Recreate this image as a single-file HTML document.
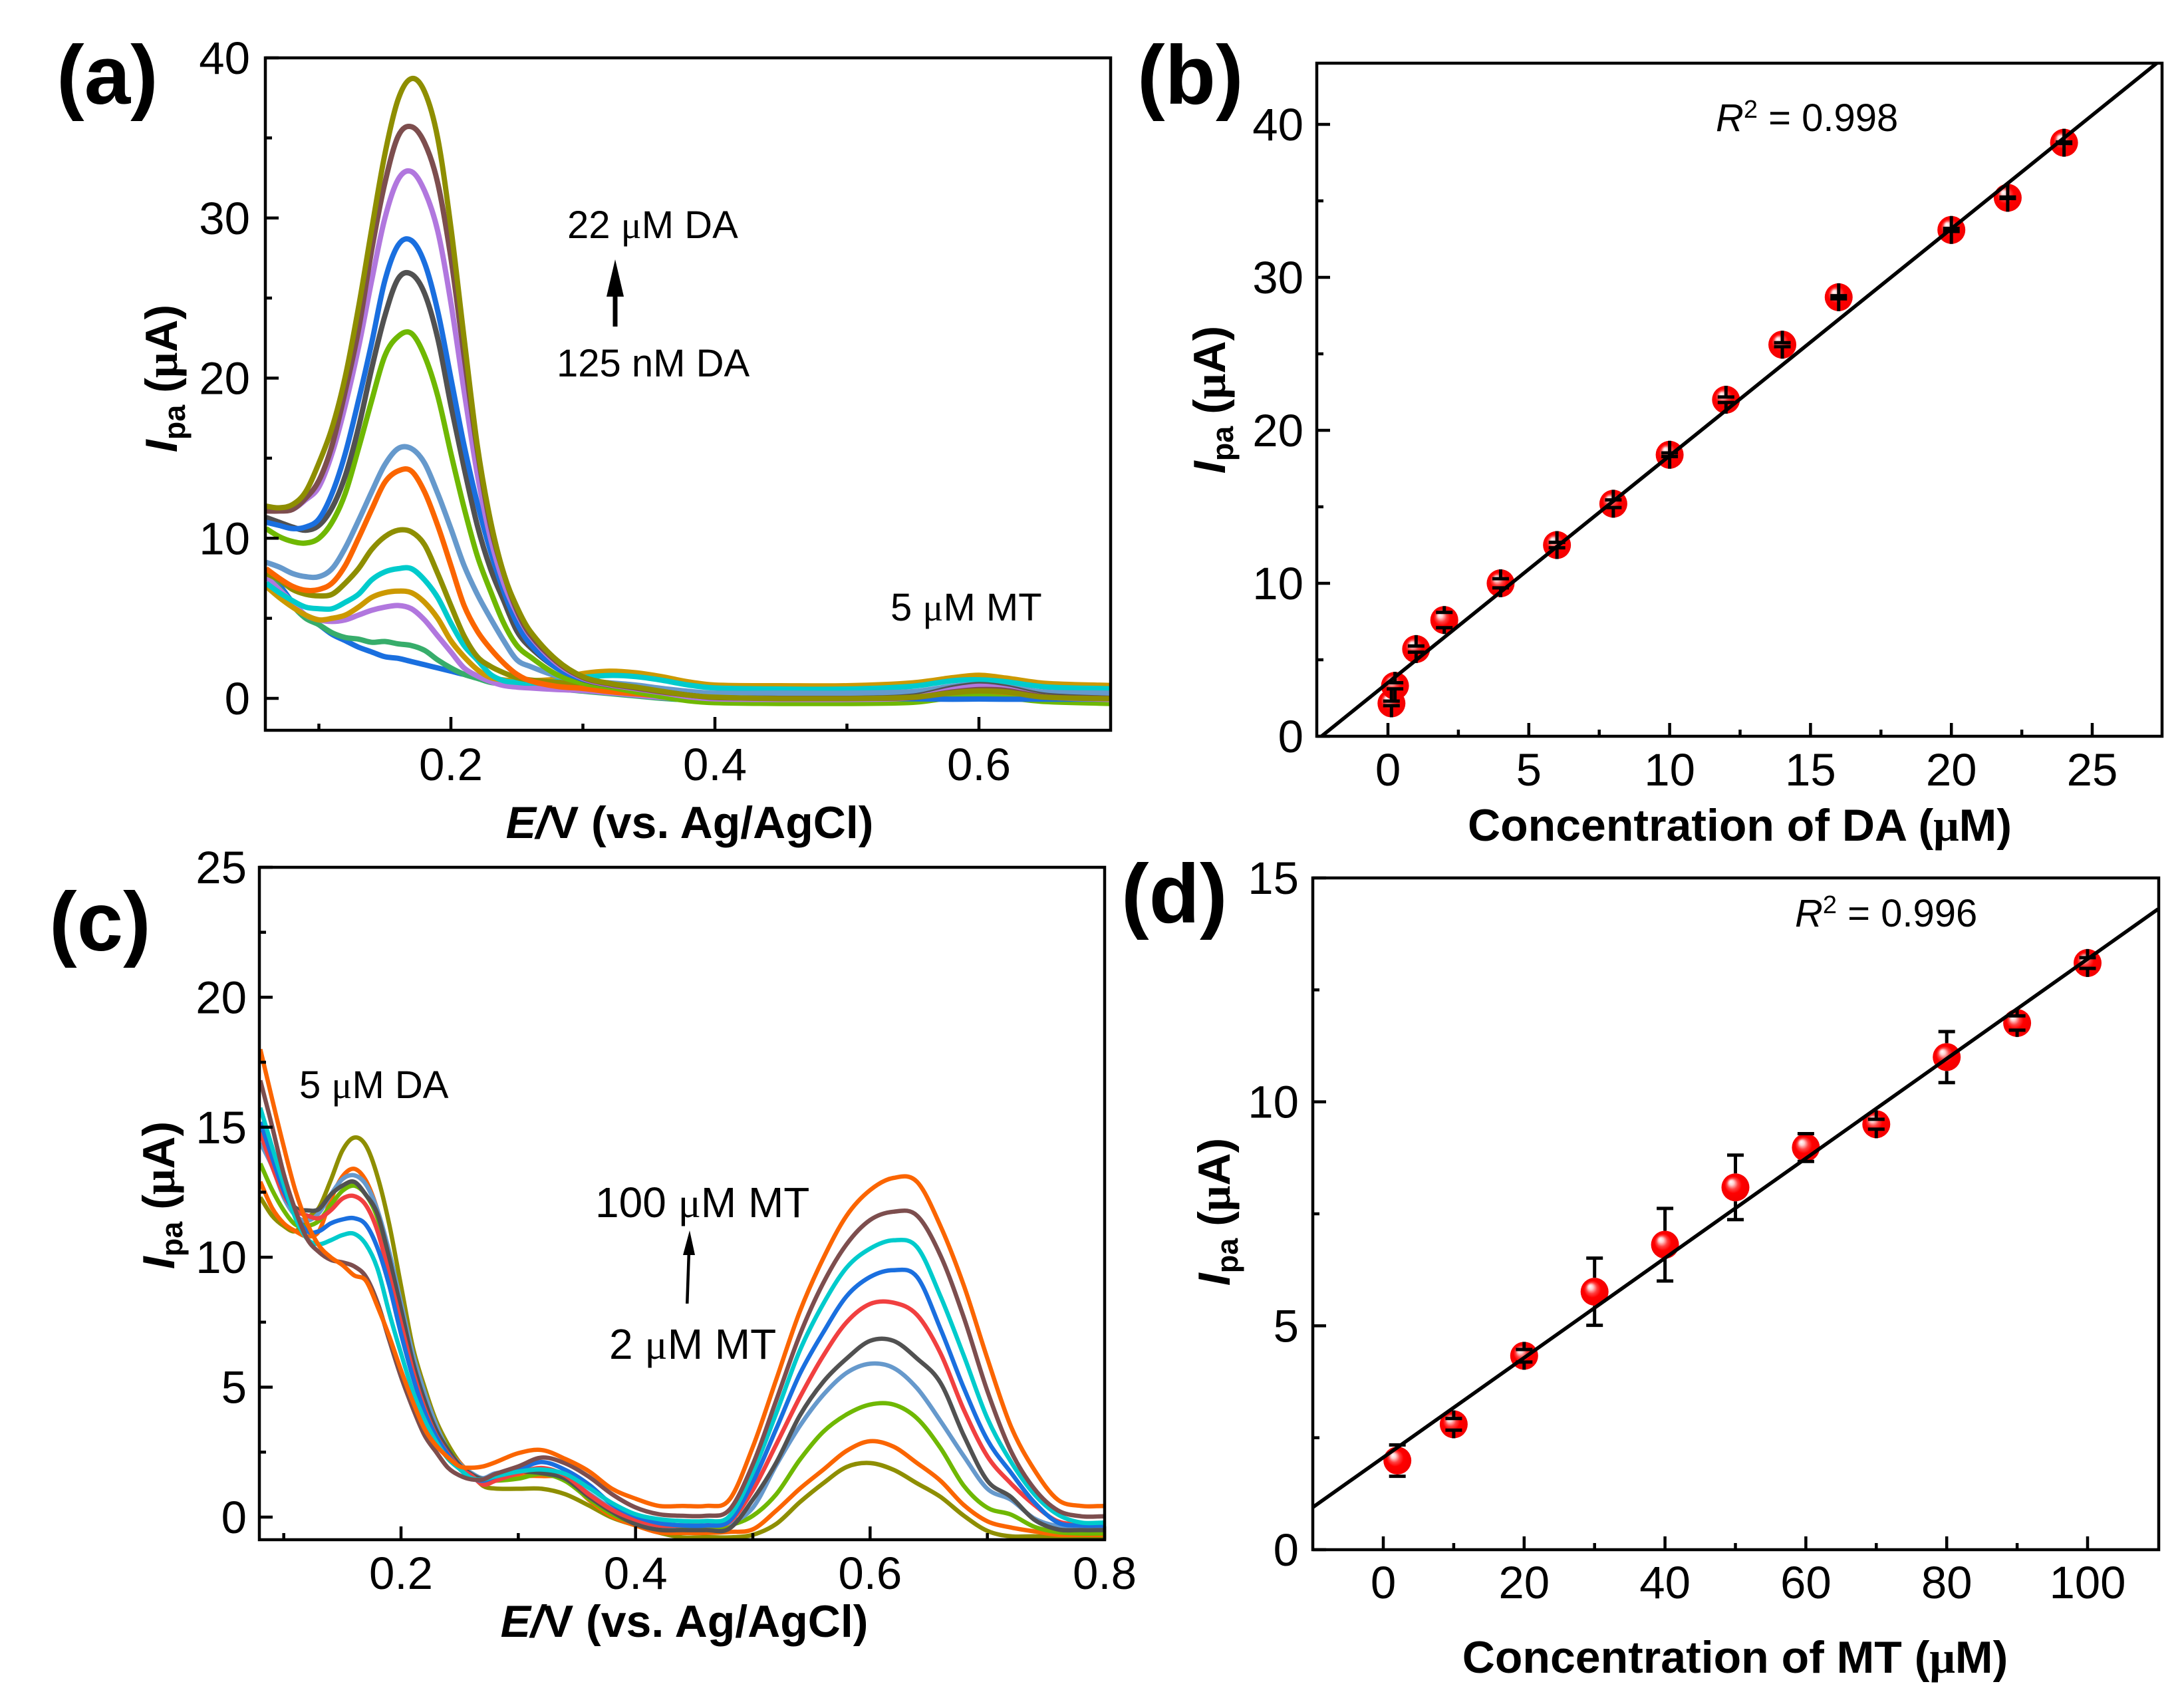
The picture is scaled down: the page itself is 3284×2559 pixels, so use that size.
<!DOCTYPE html>
<html lang="en">
<head>
<meta charset="utf-8">
<title>Voltammetry calibration of DA and MT</title>
<style>
html,body{margin:0;padding:0;background:#fff;}
svg{display:block;font-family:"Liberation Sans",Arial,sans-serif;fill:#000;}
.tick{font-size:69px;}
.title{font-size:68px;font-weight:bold;}
.note{font-size:58px;}
.note-wide{font-size:64px;}
.panel{font-size:125px;font-weight:bold;}
.mu{font-family:"Liberation Serif",serif;}
</style>
</head>
<body>
<svg id="fig" xmlns="http://www.w3.org/2000/svg" width="3284" height="2559" viewBox="0 0 3284 2559">
<defs>
<radialGradient id="ball" cx="0.5" cy="0.5" r="0.55" fx="0.33" fy="0.3">
<stop offset="0" stop-color="#ffffff"/>
<stop offset="0.16" stop-color="#ffd0d0"/>
<stop offset="0.36" stop-color="#ff4040"/>
<stop offset="0.55" stop-color="#ff0000"/>
<stop offset="1" stop-color="#f00000"/>
</radialGradient>
<clipPath id="clip-a"><rect x="399" y="87" width="1271" height="1011"/></clipPath>
<clipPath id="clip-b"><rect x="1980" y="95" width="1271" height="1012"/></clipPath>
<clipPath id="clip-c"><rect x="390" y="1304" width="1271" height="1011"/></clipPath>
<clipPath id="clip-d"><rect x="1974" y="1320" width="1272" height="1010"/></clipPath>
</defs>
<rect width="3284" height="2559" fill="#fff"/>

<g id="panel-a"></g>
<g id="panel-b"></g>
<g id="panel-c"></g>
<g id="panel-d"></g>

<text class="panel" x="85" y="156">(a)</text>
<text class="panel" x="1710" y="156">(b)</text>
<text class="panel" x="74" y="1429">(c)</text>
<text class="panel" x="1686" y="1387">(d)</text>

<text class="title" x="1037" y="1260" text-anchor="middle"><tspan font-style="italic">E/</tspan>V (vs. Ag/AgCl)</text>
<text class="title" x="266" y="569" text-anchor="middle" transform="rotate(-90 266 569)"><tspan font-style="italic">I</tspan><tspan font-size="45" dy="12">pa</tspan><tspan dy="-12" dx="18">(</tspan><tspan class="mu">μ</tspan>A)</text>
<text class="note" x="853" y="358">22 <tspan class="mu">μ</tspan>M DA</text>
<text class="note" x="837" y="566">125 nM DA</text>
<text class="note" x="1339" y="933">5 <tspan class="mu">μ</tspan>M MT</text>
<path d="M921.5 491 L921.5 446 L912 446 L925 390 L938 446 L928.5 446 L928.5 491 Z" fill="#000"/>

<text class="title" x="2616" y="1264" text-anchor="middle">Concentration of DA (<tspan class="mu">μ</tspan>M)</text>
<text class="title" x="1842" y="601" text-anchor="middle" transform="rotate(-90 1842 601)"><tspan font-style="italic">I</tspan><tspan font-size="45" dy="12">pa</tspan><tspan dy="-12" dx="18">(</tspan><tspan class="mu">μ</tspan>A)</text>
<text class="note" x="2580" y="197"><tspan font-style="italic">R</tspan><tspan font-size="38" dy="-20">2</tspan><tspan dy="20"> = 0.998</tspan></text>

<text class="title" x="1029" y="2461" text-anchor="middle"><tspan font-style="italic">E/</tspan>V (vs. Ag/AgCl)</text>
<text class="title" x="262" y="1797" text-anchor="middle" transform="rotate(-90 262 1797)"><tspan font-style="italic">I</tspan><tspan font-size="45" dy="12">pa</tspan><tspan dy="-12" dx="18">(</tspan><tspan class="mu">μ</tspan>A)</text>
<text class="note" x="450" y="1651">5 <tspan class="mu">μ</tspan>M DA</text>
<text class="note-wide" x="895" y="1830">100 <tspan class="mu">μ</tspan>M MT</text>
<text class="note-wide" x="916" y="2043">2 <tspan class="mu">μ</tspan>M MT</text>
<path d="M1031 1960 L1033.5 1887 L1027 1887 L1037 1850 L1045 1887 L1038 1887 L1035.5 1960 Z" fill="#000"/>

<text class="title" x="2609" y="2515" text-anchor="middle">Concentration of MT (<tspan class="mu">μ</tspan>M)</text>
<text class="title" x="1849" y="1822" text-anchor="middle" transform="rotate(-90 1849 1822)"><tspan font-style="italic">I</tspan><tspan font-size="45" dy="12">pa</tspan><tspan dy="-12" dx="18">(</tspan><tspan class="mu">μ</tspan>A)</text>
<text class="note" x="2699" y="1393"><tspan font-style="italic">R</tspan><tspan font-size="38" dy="-20">2</tspan><tspan dy="20"> = 0.996</tspan></text>
</svg>

<script>
/* ---------- Panel (a): potential (V) and current (uA) ---------- */
const aPotential=[.06,.07,.08,.09,.10,.11,.12,.13,.14,.15,.16,.17,.18,.19,.20,.21,.22,.23,.24,.25,.26,.28,.30,.32,.34,.36,.38,.40,.45,.50,.55,.58,.60,.62,.65,.70];
const aCurve01=[8,7.1,6,5.1,4.6,4,3.6,3.2,2.9,2.6,2.5,2.3,2.1,1.9,1.7,1.5,1.4,1.3,1.1,1,.95,.75,.5,.37,.2,.05,0,-.02,-.03,-.03,-.04,-.05,-.04,-.05,-.05,-.05];
const aCurve02=[7.9,6.9,5.8,5,4.6,4.1,3.8,3.7,3.5,3.55,3.4,3.3,3,2.4,1.9,1.5,1.25,1,.9,.8,.7,.6,.45,.3,.15,0,-.1,-.15,-.2,-.2,-.15,.05,.15,.05,-.15,-.2];
const aCurve03=[7.6,6.8,6,5.2,4.9,4.8,4.9,5.2,5.5,5.7,5.8,5.6,4.9,3.9,2.9,1.9,1.4,1.05,.8,.7,.65,.55,.48,.35,.2,.05,-.05,-.08,-.08,-.08,.05,.5,.7,.55,.1,-.08];
const aCurve04=[7,6.3,5.7,5.2,4.9,5,5.2,5.7,6.3,6.6,6.7,6.6,6,5,3.6,2.6,1.8,1.3,1.15,1.1,1.1,1.2,1.55,1.7,1.6,1.35,1.03,.83,.79,.79,.97,1.29,1.44,1.27,.94,.8];
const aCurve05=[7.2,6.6,6.1,5.7,5.6,5.6,6,6.5,7.4,7.9,8.1,8.1,7.4,6.3,4.7,3.3,2.4,1.5,1.1,1,.95,1.05,1.3,1.43,1.36,1.13,.83,.65,.58,.58,.76,1.1,1.16,1.04,.72,.6];
const aCurve06=[7.8,7.4,6.8,6.5,6.4,6.5,7.2,8.1,9.3,10.1,10.5,10.4,9.6,7.8,5.8,3.9,2.6,2,1.6,1.3,1.15,1,.95,.7,.45,.2,0,-.05,-.05,-.05,0,.2,.35,.2,0,-.05];
const aCurve07=[8.1,7.5,7,6.75,6.8,7.2,8.3,10,11.8,13.5,14.2,14.2,12.9,10.8,8.3,5.8,4.2,3.1,2.2,1.5,1.1,.75,.62,.42,.28,.15,.05,0,0,0,0,.1,.2,.1,0,0];
const aCurve08=[8.5,8.2,7.8,7.6,7.6,8.1,9.4,11.1,12.9,14.6,15.6,15.6,14.7,12.8,10.6,8.3,6.5,5,3.6,2.4,2,1.4,1.1,.97,.83,.62,.44,.32,.32,.32,.42,.76,.86,.72,.39,.32];
const aCurve09=[10.6,10.1,9.8,9.7,10,11,12.8,15.6,18.6,21.4,22.6,22.8,21.4,18.9,15.3,11.9,8.9,6.7,4.7,3.3,2.6,1.5,.95,.7,.4,.1,-.15,-.27,-.32,-.32,-.25,.05,.14,.05,-.2,-.32];
const aCurve10=[11.3,11,10.7,10.5,10.8,11.9,13.9,16.9,20.6,23.9,26.2,26.5,25.3,22.5,18.3,14.4,10.8,8.1,6.1,4.2,3.2,1.9,1.18,.83,.62,.42,.2,.04,0,0,.14,.66,.86,.7,.2,0];
const aCurve11=[11,10.8,10.6,10.7,11.2,12.8,15.3,18.6,22.2,26.1,28.3,28.6,27.2,24.2,20,15.8,12.2,9.2,6.7,4.7,3.4,1.9,1.2,.9,.65,.4,.2,.05,0,0,-.03,-.05,-.04,-.05,-.05,-.05];
const aCurve12=[11.7,11.7,11.8,12.4,13.2,15.3,18.3,21.9,26.1,30,32.4,32.9,31.7,29.2,24.7,19.2,14,10,7.2,5.3,3.9,2.2,1.25,.85,.6,.35,.1,-.03,-.07,-.07,.05,.55,.76,.6,.1,-.07];
const aCurve13=[11.7,11.7,11.8,12.5,13.6,15.8,19.2,23,28,32.2,35.1,35.7,34.7,32.2,27.5,21.4,15.5,10.8,7.8,5.5,4,2.3,1.3,.9,.65,.4,.2,.05,0,0,.05,.4,.55,.5,.1,0];
const aCurve14=[12,11.9,12.1,12.9,14.7,16.9,20.1,24.4,29.3,34,37.4,38.7,37.9,35,29.4,22.5,15.8,11.1,7.8,5.7,4.2,2.4,1.35,.94,.7,.44,.2,.07,-.02,-.02,.07,.35,.46,.4,.07,-.02];
const aCurves=[aCurve01,aCurve02,aCurve03,aCurve04,aCurve05,aCurve06,aCurve07,aCurve08,aCurve09,aCurve10,aCurve11,aCurve12,aCurve13,aCurve14];
const aXTicks=["0.2","0.4","0.6"];
const aYTicks=["0","10","20","30","40"];

/* ---------- Panel (b): DA concentration (uM) and peak current (uA) ---------- */
const bConcentration=[.125,.25,1,2,4,6,8,10,12,14,16,20,22,24];
const bCurrent=[2.15,3.3,5.7,7.6,10,12.5,15.2,18.4,22,25.6,28.7,33.1,35.2,38.8];
const bError=[.15,.2,.2,.5,.3,.18,.25,.12,.18,.13,.1,.1,.05,.05];
const bFitSlope=[1.484];
const bFitIntercept=[3.5];
const bXTicks=["0","5","10","15","20","25"];
const bYTicks=["0","10","20","30","40"];

/* ---------- Panel (c): potential (V) and current (uA) ---------- */
const cPotential=[.08,.09,.10,.11,.12,.13,.14,.15,.16,.17,.18,.19,.20,.21,.22,.23,.24,.25,.26,.27,.28,.30,.32,.34,.36,.38,.40,.42,.44,.46,.48,.50,.52,.54,.56,.58,.60,.62,.64,.66,.68,.70,.72,.74,.76,.78,.80];
const cCurve01=[12.3,11.6,11.2,11,11.5,11.9,12.95,14.1,14.6,14.3,13.1,11.25,8.9,6.55,5,3.7,2.8,2.1,1.65,1.2,1.1,1.09,1.09,.88,.45,-.02,-.32,-.6,-.78,-.77,-.78,-.68,-.26,.57,1.3,1.93,2.08,1.82,1.3,.78,.05,-.53,-.74,-.74,-.78,-.78,-.77];
const cCurve02=[12.9,11.9,11.3,11,10.8,11,12.2,13.1,13.4,12.95,11.8,10.1,8.25,6.3,4.8,3.55,2.6,2.1,1.6,1.3,1.4,1.56,1.58,1.48,.67,.03,-.32,-.59,-.61,-.61,-.57,-.47,.25,1.09,1.82,2.55,2.92,2.71,2.08,1.4,.46,-.16,-.4,-.55,-.68,-.68,-.68];
const cCurve03=[13.6,12.6,11.8,11.25,11.2,11.4,12,12.55,12.75,12.4,11.5,9.8,8.1,6.2,4.65,3.5,2.65,2.05,1.7,1.45,1.4,1.48,1.66,1.39,.71,.11,-.23,-.36,-.44,-.44,-.32,.05,.88,2.2,3.28,3.95,4.33,4.33,3.8,2.66,1.2,.36,.1,-.37,-.58,-.63,-.63];
const cCurve04=[14.4,13.5,12.3,11.6,11.4,11.7,12.4,13,13.15,12.8,11.8,10.2,8.25,6.3,4.8,3.55,2.6,2.05,1.7,1.5,1.68,1.77,1.86,1.56,.92,.32,-.15,-.36,-.32,-.32,-.23,.36,2,3.5,4.7,5.55,5.9,5.74,4.96,3.7,2.34,1.09,.67,-.05,-.35,-.45,-.45];
const cCurve05=[14.85,13.6,12.55,11.9,11.8,11.85,12.4,12.75,12.9,12.4,11.65,9.95,8,6,4.5,3.35,2.6,2,1.65,1.45,1.5,1.73,1.69,1.48,.79,.2,-.27,-.49,-.5,-.5,-.44,.67,2.1,3.9,5.2,6.1,6.78,6.78,6.1,5.17,3.13,1.4,.78,-.1,-.47,-.5,-.5];
const cCurve06=[14.8,13.5,12.4,11.8,11.6,11.5,11.8,12.25,12.35,12,11,9.3,7.45,5.65,4.2,3.15,2.45,1.9,1.6,1.25,1.39,1.69,1.89,1.6,.88,.28,-.1,-.32,-.32,-.32,-.19,1.04,2.8,4.6,6.2,7.5,8.2,8.25,7.78,6.31,4.12,2.34,1.3,.47,-.16,-.27,-.27];
const cCurve07=[15.2,13.85,12.55,11.65,11,11,11.3,11.45,11.5,11.25,10.35,8.9,7.05,5.4,4.05,3.1,2.4,1.85,1.5,1.4,1.55,1.82,2.12,1.82,1.26,.49,.03,-.23,-.32,-.32,-.15,1.35,3.4,5.5,7.1,8.5,9.24,9.5,9.24,7.25,4.96,2.97,1.72,.57,-.21,-.32,-.32];
const cCurve08=[15.75,14.25,12.8,11.5,10.7,10.5,10.65,10.85,10.9,10.5,9.55,7.85,6.3,4.85,3.75,2.9,2.25,1.85,1.5,1.45,1.56,1.75,1.83,1.66,1.13,.54,.11,-.08,-.15,-.15,.03,1.72,4,6.4,8.2,9.6,10.33,10.65,10.39,8.5,6.2,3.8,2.14,.88,.1,-.21,-.21];
const cCurve09=[16.8,15.05,13.2,11.8,10.7,10.2,9.9,9.8,9.65,9.25,8.25,6.8,5.4,4.2,3.15,2.5,1.9,1.6,1.45,1.45,1.65,1.95,2.29,2.07,1.56,.88,.37,.11,.05,.05,.28,2.03,4.5,7,9,10.5,11.43,11.75,11.6,10.07,7.67,4.85,2.55,1.09,.26,.03,.03];
const cCurve10=[18,16.1,14.25,12.55,11.3,10.45,10,9.7,9.3,9.1,8.1,6.95,5.65,4.45,3.4,2.75,2.3,1.95,1.9,1.95,2.1,2.46,2.58,2.24,1.77,1.09,.71,.43,.43,.43,.67,2.7,5.3,7.9,9.95,11.6,12.58,13.05,12.9,11.2,8.9,6.1,3.5,1.82,.67,.43,.43];
const cCurves=[cCurve01,cCurve02,cCurve03,cCurve04,cCurve05,cCurve06,cCurve07,cCurve08,cCurve09,cCurve10];
const cXTicks=["0.2","0.4","0.6","0.8"];
const cYTicks=["0","5","10","15","20","25"];

/* ---------- Panel (d): MT concentration (uM) and peak current (uA) ---------- */
const dConcentration=[2,10,20,30,40,50,60,70,80,90,100];
const dCurrent=[1.99,2.8,4.33,5.76,6.81,8.09,8.98,9.5,11,11.76,13.1];
const dError=[.35,.13,.14,.75,.81,.72,.31,.11,.57,.16,.12];
const dFitSlope=[.1113];
const dFitIntercept=[2.06];
const dXTicks=["0","20","40","60","80","100"];
const dYTicks=["0","5","10","15"];

/* ---------- Palettes (styling only) ---------- */
const aColors=["#1a6fdf","#37ad6b","#b177de","#cc9900","#00cbcc","#8e8e00","#fb6500","#6699cc","#6fb802","#515151","#1a6fdf","#b177de","#7d4e4e","#8e8e00"];
const cColors=["#8e8e00","#fb6500","#6fb802","#6699cc","#515151","#f14040","#1a6fdf","#00cbcc","#7d4e4e","#fb6500"];

const NS="http://www.w3.org/2000/svg";
function node(parent,tag,attrs){
  const el=document.createElementNS(NS,tag);
  for(const k in attrs){el.setAttribute(k,attrs[k]);}
  parent.appendChild(el);
  return el;
}
function linear(d0,d1,r0,r1){return function(v){return r0+(v-d0)*(r1-r0)/(d1-d0);};}

function smoothPath(xs,ys,sx,sy){
  const p=xs.map(function(x,i){return [sx(x),sy(ys[i])];});
  let d="M"+p[0][0].toFixed(1)+" "+p[0][1].toFixed(1);
  for(let i=0;i<p.length-1;i++){
    const a=p[Math.max(i-1,0)],b=p[i],c=p[i+1],e=p[Math.min(i+2,p.length-1)];
    const h=c[0]-b[0];
    const m1=(c[1]-a[1])/((c[0]-a[0])||1),m2=(e[1]-b[1])/((e[0]-b[0])||1);
    d+=" C"+(b[0]+h/3).toFixed(1)+" "+(b[1]+m1*h/3).toFixed(1)+" "+(c[0]-h/3).toFixed(1)+" "+(c[1]-m2*h/3).toFixed(1)+" "+c[0].toFixed(1)+" "+c[1].toFixed(1);
  }
  return d;
}

function drawAxes(g,cfg){
  const sx=cfg.sx,sy=cfg.sy;
  const ticks=node(g,"g",{});
  
  
  cfg.xMinor.forEach(function(v){
    const t=node(ticks,"line",{x1:sx(v),x2:sx(v),y1:cfg.bottom,y2:cfg.bottom-10,stroke:"#000","stroke-width":4.5});
    
    
  });
  cfg.yMinor.forEach(function(v){
    const t=node(ticks,"line",{x1:cfg.left,x2:cfg.left+10,y1:sy(v),y2:sy(v),stroke:"#000","stroke-width":4.5});
    
    
  });
  cfg.xLabels.forEach(function(lbl){
    const v=parseFloat(lbl);
    const t=node(ticks,"line",{x1:sx(v),x2:sx(v),y1:cfg.bottom,y2:cfg.bottom-20,stroke:"#000","stroke-width":4.5});
    
    
    const s=node(ticks,"text",{x:sx(v),y:cfg.xLabelY,"text-anchor":"middle","class":"tick"});
    
    
    s.textContent=lbl;
  });
  cfg.yLabels.forEach(function(lbl){
    const v=parseFloat(lbl);
    const t=node(ticks,"line",{x1:cfg.left,x2:cfg.left+20,y1:sy(v),y2:sy(v),stroke:"#000","stroke-width":4.5});
    
    
    const s=node(ticks,"text",{x:cfg.yLabelX,y:sy(v)+24,"text-anchor":"end","class":"tick"});
    
    
    s.textContent=lbl;
  });
}
function drawFrame(g,l,t,r,b){
  const f=node(g,"rect",{x:l,y:t,width:r-l,height:b-t,fill:"none",stroke:"#000","stroke-width":4.5});
  
  
}
function drawCurves(g,xs,curves,colors,sx,sy,clip,width){
  const lines=node(g,"g",{"clip-path":"url(#"+clip+")"});
  
  
  curves.forEach(function(ys,i){
    const p=node(lines,"path",{d:smoothPath(xs,ys,sx,sy),fill:"none",stroke:colors[i],"stroke-width":width,"stroke-linejoin":"round","stroke-linecap":"butt"});
    
    
  });
}
function drawPoints(g,xs,ys,errs,slope,intercept,xDom,sx,sy,clip){
  const R=21;
  const pts=node(g,"g",{});
  
  
  xs.forEach(function(x,i){
    const c=node(pts,"circle",{cx:sx(x),cy:sy(ys[i]),r:R,fill:"url(#ball)"});
    
    
  });
  xs.forEach(function(x,i){
    const px=sx(x),py=sy(ys[i]),up=sy(ys[i]+errs[i]),dn=sy(ys[i]-errs[i]);
    const d="M"+(px-12.5)+" "+up+" H"+(px+12.5)+" M"+(px-12.5)+" "+dn+" H"+(px+12.5)+
            " M"+px+" "+up+" V"+(py-R)+" M"+px+" "+dn+" V"+(py+R);
    const e=node(pts,"path",{d:d,fill:"none",stroke:"#000","stroke-width":5});
    
    
  });
  const fit=node(g,"line",{x1:sx(xDom[0]),y1:sy(intercept[0]+slope[0]*xDom[0]),x2:sx(xDom[1]),y2:sy(intercept[0]+slope[0]*xDom[1]),stroke:"#000","stroke-width":5.5,"clip-path":"url(#"+clip+")"});
  
  
}

/* Panel a */
(function(){
  const g=document.getElementById("panel-a");
  const sx=linear(.2,.6,678,1472),sy=linear(0,40,1050,87);
  drawCurves(g,aPotential,aCurves,aColors,sx,sy,"clip-a",8);
  drawAxes(g,{sx:sx,sy:sy,left:399,bottom:1098,xMinor:[.1,.3,.5],yMinor:[5,15,25,35],xLabels:aXTicks,yLabels:aYTicks,xLabelY:1173,yLabelX:376});
  drawFrame(g,399,87,1670,1098);
})();
/* Panel b */
(function(){
  const g=document.getElementById("panel-b");
  const sx=linear(0,25,2087,3146),sy=linear(0,40,1107,187);
  drawPoints(g,bConcentration,bCurrent,bError,bFitSlope,bFitIntercept,[-2.53,27.5],sx,sy,"clip-b");
  drawAxes(g,{sx:sx,sy:sy,left:1980,bottom:1107,xMinor:[2.5,7.5,12.5,17.5,22.5],yMinor:[5,15,25,35],xLabels:bXTicks,yLabels:bYTicks,xLabelY:1181,yLabelX:1960});
  drawFrame(g,1980,95,3251,1107);
})();
/* Panel c */
(function(){
  const g=document.getElementById("panel-c");
  const sx=linear(.2,.8,603,1661),sy=linear(0,25,2281,1304);
  drawCurves(g,cPotential,cCurves,cColors,sx,sy,"clip-c",6.5);
  drawAxes(g,{sx:sx,sy:sy,left:390,bottom:2315,xMinor:[.1,.3,.5,.7],yMinor:[2.5,7.5,12.5,17.5,22.5],xLabels:cXTicks,yLabels:cYTicks,xLabelY:2389,yLabelX:371});
  drawFrame(g,390,1304,1661,2315);
})();
/* Panel d */
(function(){
  const g=document.getElementById("panel-d");
  const sx=linear(0,100,2080,3139),sy=linear(0,15,2330,1320);
  drawPoints(g,dConcentration,dCurrent,dError,dFitSlope,dFitIntercept,[-10,110],sx,sy,"clip-d");
  drawAxes(g,{sx:sx,sy:sy,left:1974,bottom:2330,xMinor:[10,30,50,70,90],yMinor:[2.5,7.5,12.5],xLabels:dXTicks,yLabels:dYTicks,xLabelY:2403,yLabelX:1953});
  drawFrame(g,1974,1320,3246,2330);
})();
</script>
</body>
</html>
